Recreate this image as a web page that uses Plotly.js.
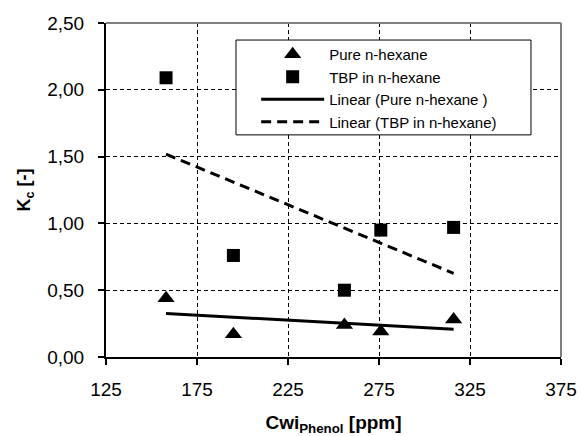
<!DOCTYPE html>
<html>
<head>
<meta charset="utf-8">
<script src="https://cdn.plot.ly/plotly-3.0.1.min.js"></script>
<style>html,body{margin:0;padding:0;background:#fff;}#chart{width:581px;height:436px;}</style>
</head>
<body>
<div id="chart"></div>
<script>
// Data
var cwiPhenol = [158, 195, 256, 276, 316];
var kcPureHexane = [0.44, 0.17, 0.24, 0.19, 0.28];
var kcTbpHexane = [2.09, 0.76, 0.50, 0.95, 0.97];
var seriesNames = ['Pure n-hexane', 'TBP in n-hexane', 'Linear (Pure n-hexane )', 'Linear (TBP in n-hexane)'];
var xTicks = [125, 175, 225, 275, 325, 375];
var yTicks = [0, 0.5, 1, 1.5, 2, 2.5];

// Least-squares linear trendline (as Excel's "Linear" trendline)
function linearFit(xs, ys) {
  var n = xs.length, mx = 0, my = 0;
  for (var i = 0; i < n; i++) { mx += xs[i]; my += ys[i]; }
  mx /= n; my /= n;
  var sxy = 0, sxx = 0;
  for (var j = 0; j < n; j++) { sxy += (xs[j] - mx) * (ys[j] - my); sxx += (xs[j] - mx) * (xs[j] - mx); }
  var b = sxy / sxx, a = my - b * mx;
  var x0 = Math.min.apply(null, xs), x1 = Math.max.apply(null, xs);
  return { x: [x0, x1], y: [a + b * x0, a + b * x1] };
}
var fitPure = linearFit(cwiPhenol, kcPureHexane);
var fitTbp = linearFit(cwiPhenol, kcTbpHexane);

var font = 'Liberation Sans, Arial, sans-serif';
var traces = [
  { x: cwiPhenol, y: kcPureHexane, name: seriesNames[0], mode: 'markers', type: 'scatter',
    marker: { symbol: 'triangle-up', size: 15, color: '#000' } },
  { x: cwiPhenol, y: kcTbpHexane, name: seriesNames[1], mode: 'markers', type: 'scatter',
    marker: { symbol: 'square', size: 13, color: '#000' } },
  { x: fitPure.x, y: fitPure.y, name: seriesNames[2], mode: 'lines', type: 'scatter',
    line: { color: '#000', width: 3 } },
  { x: fitTbp.x, y: fitTbp.y, name: seriesNames[3], mode: 'lines', type: 'scatter',
    line: { color: '#000', width: 3, dash: '10px,6px' } }
];

var layout = {
  width: 581, height: 436,
  margin: { l: 106, r: 20, t: 23, b: 79 },
  paper_bgcolor: '#fff', plot_bgcolor: '#fff',
  separators: ', ',
  font: { family: font, color: '#000', size: 17 },
  showlegend: true,
  legend: {
    x: 0.33, y: 0.955, xanchor: 'left', yanchor: 'top',
    bgcolor: 'rgba(0,0,0,0)', borderwidth: 0,
    font: { family: font, size: 15, color: '#000' },
    itemwidth: 63, tracegroupgap: 0
  },
  xaxis: {
    range: [125, 375], tickvals: xTicks, ticktext: xTicks.map(String),
    showgrid: true, gridcolor: '#000', gridwidth: 1, griddash: '4px,3px',
    showline: true, linecolor: '#000', linewidth: 2,
    ticks: 'outside', ticklen: 6, tickwidth: 2, tickcolor: '#000',
    ticklabelstandoff: 8, zeroline: false,
    tickfont: { family: font, size: 19, color: '#000' },
    title: { text: '<b>Cwi<sub>Phenol</sub> [ppm]</b>', font: { family: font, size: 19, color: '#000' }, standoff: 23 }
  },
  yaxis: {
    range: [0, 2.5], tickvals: yTicks, tickformat: '.2f',
    showgrid: true, gridcolor: '#000', gridwidth: 1, griddash: '4px,3px',
    showline: true, linecolor: '#000', linewidth: 2,
    ticks: 'outside', ticklen: 6, tickwidth: 2, tickcolor: '#000',
    ticklabelstandoff: 10, zeroline: false,
    tickfont: { family: font, size: 19, color: '#000' },
    title: { text: '<b>K<sub>c</sub> [-]</b>', font: { family: font, size: 18, color: '#000' }, standoff: 12 }
  },
  shapes: [
    { type: 'line', xref: 'paper', yref: 'paper', x0: 0, x1: 1, y0: 1, y1: 1, line: { color: '#808080', width: 2 } },
    { type: 'line', xref: 'paper', yref: 'paper', x0: 1, x1: 1, y0: 0, y1: 1, line: { color: '#808080', width: 2 } },
    { type: 'rect', xref: 'paper', yref: 'paper', layer: 'above', x0: 0.2857, x1: 0.934, y0: 0.665, y1: 0.949,
      fillcolor: '#fff', line: { color: '#000', width: 1 } }
  ]
};

Plotly.newPlot('chart', traces, layout, { displayModeBar: false, staticPlot: true });
</script>
</body>
</html>
